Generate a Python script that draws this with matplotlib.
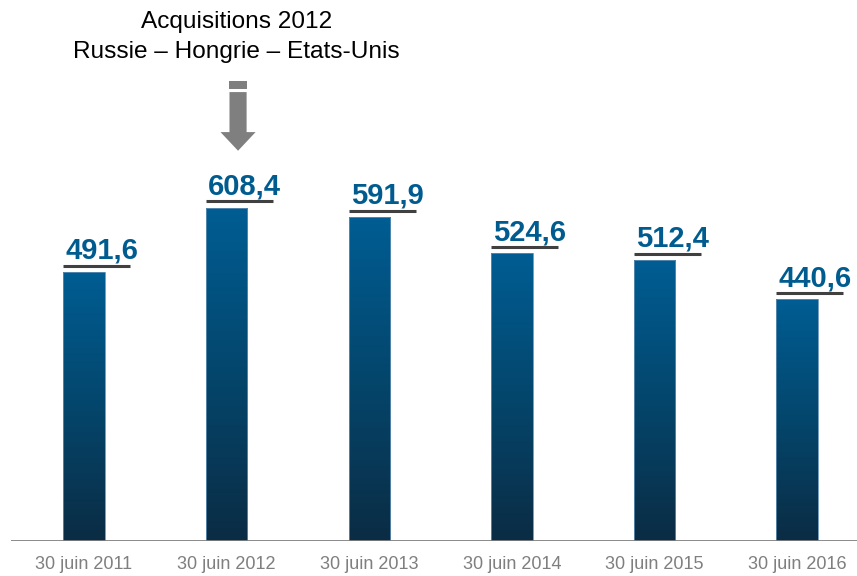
import matplotlib
matplotlib.use("Agg")
import matplotlib.pyplot as plt
import numpy as np
from matplotlib.patches import Rectangle, Polygon
from matplotlib.colors import LinearSegmentedColormap

categories = ["30 juin 2011", "30 juin 2012", "30 juin 2013", "30 juin 2014", "30 juin 2015", "30 juin 2016"]
values = [491.6, 608.4, 591.9, 524.6, 512.4, 440.6]
labels = ["491,6", "608,4", "591,9", "524,6", "512,4", "440,6"]
note_lines = ["Acquisitions 2012", "Russie \u2013 Hongrie \u2013 Etats-Unis"]
note_index = 1

plt.rcParams['font.family'] = ['Liberation Sans', 'DejaVu Sans']

fig = plt.figure(figsize=(8.57, 5.76), dpi=100)
ax = fig.add_axes([11/857, 35/576, 846/857, 541/576])
for s in ax.spines.values():
    s.set_visible(False)
ax.tick_params(left=False, bottom=False, labelleft=False)

cmap = LinearSegmentedColormap.from_list("bar", ["#0B2C44", "#04466C", "#005D93"])
grad = np.linspace(0, 1, 256).reshape(-1, 1)
w = 0.29
x = np.arange(len(values))
for xi, v, lab in zip(x, values, labels):
    rect = Rectangle((xi - w/2, 0), w, v, facecolor='none', edgecolor='#5F8FB3', linewidth=0.6, zorder=3)
    ax.add_patch(rect)
    im = ax.imshow(grad, extent=(xi - w/2, xi + w/2, 0, v), origin='lower', cmap=cmap,
                   aspect='auto', zorder=2)
    im.set_clip_path(rect)
    ax.plot([xi - w/2, xi - w/2 + 0.47], [v + 11, v + 11], color='#404040', lw=2.2,
            solid_capstyle='butt', zorder=4)
    ax.annotate(lab, xy=(xi - w/2, v), xytext=(1.5, 9.5), textcoords='offset points',
                ha='left', va='baseline', fontsize=21, fontweight='bold', color='#005C8F', zorder=5)

ax.set_aspect('auto')
ax.set_xlim(-0.512, 5.42)
ax.set_ylim(0, 987)

ax.axhline(0, color='#808080', lw=2, zorder=6)
ax.set_xticks(x)
ax.set_xticklabels(categories, fontsize=13, color='#7F7F7F')
ax.tick_params(axis='x', pad=7.5)

# arrow
ax_x = note_index + 0.08
gray = '#7F7F7F'
ax.add_patch(Rectangle((ax_x - 0.06, 825), 0.12, 14, facecolor=gray, edgecolor='none'))
ax.add_patch(Polygon([(ax_x - 0.06, 819), (ax_x + 0.06, 819), (ax_x + 0.06, 746),
                      (ax_x + 0.123, 746), (ax_x, 712), (ax_x - 0.123, 746),
                      (ax_x - 0.06, 746)], closed=True, facecolor=gray, edgecolor='none'))
ax.text(ax_x - 0.01, 947, note_lines[0], ha='center', va='center', fontsize=17.6, color='#000000')
ax.text(ax_x - 0.01, 893, note_lines[1], ha='center', va='center', fontsize=17.6, color='#000000')

fig.savefig("out.png", dpi=100)
